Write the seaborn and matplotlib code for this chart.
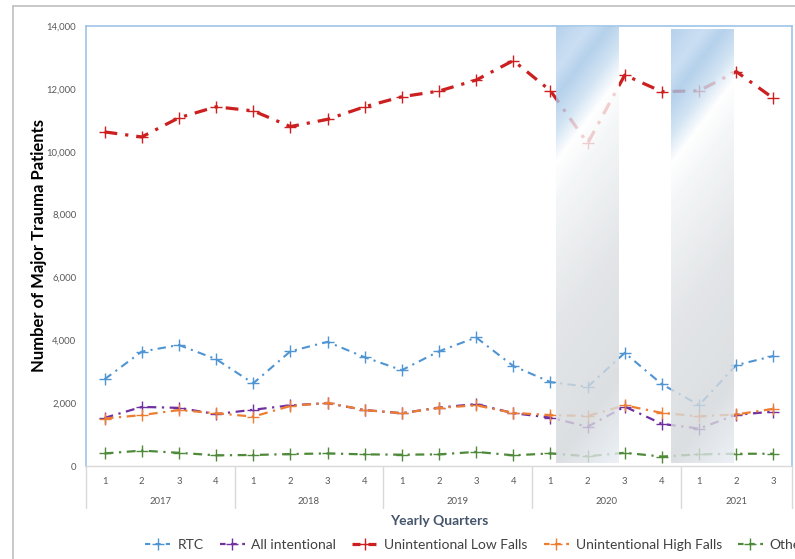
import numpy as np
import pandas as pd
import matplotlib
matplotlib.use("Agg")
import matplotlib.pyplot as plt
from matplotlib.lines import Line2D
import seaborn as sns

# ---- data ----
quarters = ['1', '2', '3', '4', '1', '2', '3', '4', '1', '2', '3', '4',
            '1', '2', '3', '4', '1', '2', '3']
years = ['2017', '2018', '2019', '2020', '2021']
year_counts = [4, 4, 4, 4, 3]
series_names = ['RTC', 'All intentional', 'Unintentional Low Falls',
                'Unintentional High Falls', 'Other']
rtc = [2760, 3640, 3850, 3400, 2630, 3650, 3950, 3460, 3050, 3650, 4090, 3180,
       2670, 2520, 3600, 2600, 1940, 3210, 3500]
intentional = [1530, 1880, 1850, 1650, 1790, 1930, 2000, 1780, 1680, 1860, 1970, 1680,
               1540, 1250, 1890, 1340, 1190, 1630, 1730]
low_falls = [10630, 10470, 11080, 11430, 11300, 10800, 11030, 11430, 11750, 11930, 12280, 12900,
             11940, 10270, 12440, 11910, 11940, 12550, 11700]
high_falls = [1510, 1620, 1780, 1680, 1570, 1910, 2010, 1780, 1680, 1850, 1930, 1690,
              1620, 1590, 1930, 1690, 1580, 1640, 1820]
other = [400, 490, 420, 340, 350, 380, 400, 370, 360, 370, 450, 340,
         400, 310, 420, 300, 370, 390, 390]
y_ticks = [0, 2000, 4000, 6000, 8000, 10000, 12000, 14000]

values = [rtc, intentional, low_falls, high_falls, other]
colors = ['#4f94d3', '#7030a0', '#cc1f1f', '#ed7d31', '#4e8a3a']
widths = [1.5, 1.6, 2.3, 1.6, 1.6]

sns.set_style('white')
plt.rcParams['font.family'] = ['Lato', 'DejaVu Sans']

fig = plt.figure(figsize=(7.95, 5.59), dpi=100)
ax = fig.add_axes([86 / 795, 93 / 559, 706 / 795, 440 / 559])

pos = np.arange(len(quarters))
for name, vals, c, lw in zip(series_names, values, colors, widths):
    df = pd.DataFrame({'pos': pos, 'val': vals})
    sns.lineplot(data=df, x='pos', y='val', ax=ax, color=c, linewidth=lw,
                 linestyle=(0, (4, 2.5, 1, 2.5)), marker='+', markersize=9,
                 markeredgewidth=1.0, markeredgecolor=c, label=name, legend=False,
                 zorder=2)

# shaded periods (gradient overlay)
H, W = 300, 80
v = np.linspace(0, 1, H)[:, None]
u = np.linspace(0, 1, W)[None, :]
t = v + 0.19 * u
stops = [0.0, 0.10, 0.16, 0.24, 0.31, 0.40, 0.70, 1.0, 1.19]
rs = [165, 190, 163, 200, 255, 242, 220, 212, 232]
gs = [199, 215, 198, 222, 255, 245, 223, 216, 238]
bs = [232, 240, 231, 241, 255, 247, 226, 219, 245]
img = np.dstack([np.interp(t, stops, rs), np.interp(t, stops, gs),
                 np.interp(t, stops, bs)]) / 255.0
for (x0, x1, ytop) in [(12.16, 13.83, 14000), (15.25, 16.92, 13900)]:
    ax.imshow(img, extent=(x0, x1, 100, ytop), aspect='auto', alpha=0.8,
              zorder=3, interpolation='bilinear')

ax.set_xlim(-0.5, len(quarters) - 0.5)
ax.set_ylim(0, 14000)
ax.set_yticks(y_ticks)
ax.set_yticklabels([f'{y:,}' for y in y_ticks])
ax.set_xticks(pos)
ax.set_xticklabels(quarters)
ax.tick_params(axis='both', length=0, labelsize=6.8, colors='#595959')
ax.tick_params(axis='x', pad=8)
ax.tick_params(axis='y', pad=7)

for s in ['top', 'left', 'right']:
    ax.spines[s].set_color('#9dc3e6')
    ax.spines[s].set_linewidth(1.2)
ax.spines['bottom'].set_color('#d9d9d9')
ax.spines['bottom'].set_linewidth(1.0)

# year group labels and separators
trans = ax.get_xaxis_transform()
start = 0
bounds = [-0.5]
for yr, n in zip(years, year_counts):
    center = start + (n - 1) / 2
    ax.text(center, -0.08, yr, transform=trans, ha='center', va='center',
            fontsize=6.8, color='#595959')
    start += n
    bounds.append(start - 0.5)
for b in bounds:
    ax.add_line(Line2D([b, b], [0, -0.095], transform=trans, color='#d9d9d9',
                       lw=1.0, clip_on=False))

ax.set_xlabel('Yearly Quarters', fontsize=10, fontweight='bold', color='#44546a',
              labelpad=21)
ax.set_ylabel('Number of Major Trauma Patients', fontsize=12, fontweight='bold',
              color='black')
ax.yaxis.set_label_coords(-0.055, 0.5)

handles = [Line2D([], [], color=c, lw=lw, linestyle=(0, (2.5, 2.5)), marker='+',
                  markersize=9, markeredgewidth=1.0) for c, lw in zip(colors, widths)]
fig.legend(handles, series_names, loc='center left', bbox_to_anchor=(0.176, 0.025),
           ncol=5, frameon=False, fontsize=10, handlelength=1.8, handletextpad=0.5,
           columnspacing=1.15, labelcolor='#404040', borderaxespad=0)

# outer border lines of the original chart frame
fig.add_artist(Line2D([13 / 795, 1], [1 - 6 / 559, 1 - 6 / 559], color='#bfbfbf', lw=1.2))
fig.add_artist(Line2D([13 / 795, 13 / 795], [0, 1 - 6 / 559], color='#bfbfbf', lw=1.2))

fig.savefig('out.png', dpi=100)
